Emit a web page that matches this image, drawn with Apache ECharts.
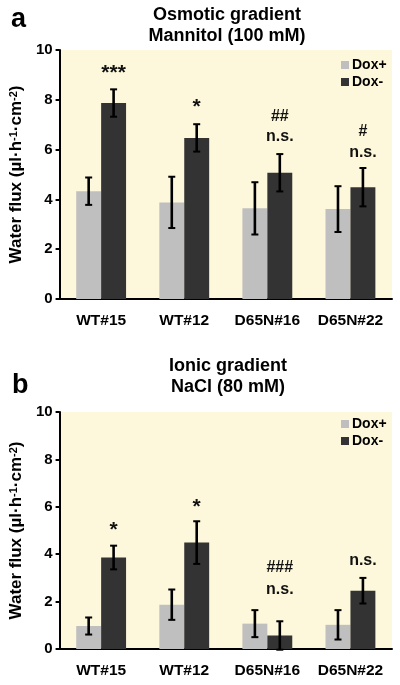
<!DOCTYPE html>
<html>
<head>
<meta charset="utf-8">
<script src="https://cdn.jsdelivr.net/npm/echarts@6/dist/echarts.min.js"></script>
<style>
html,body{margin:0;padding:0;background:#fff;}
#c{width:400px;height:685px;}
</style>
</head>
<body>
<div id="c"></div>
<script>
const categories = ['WT#15', 'WT#12', 'D65N#16', 'D65N#22'];
const yTicks = [0, 2, 4, 6, 8, 10];

const osmoDoxPlus = [4.33, 3.88, 3.64, 3.61];
const osmoDoxPlusErr = [0.55, 1.03, 1.05, 0.92];
const osmoDoxMinus = [7.87, 6.47, 5.07, 4.49];
const osmoDoxMinusErr = [0.55, 0.55, 0.75, 0.77];

const ionicDoxPlus = [0.97, 1.87, 1.07, 1.02];
const ionicDoxPlusErr = [0.36, 0.64, 0.57, 0.62];
const ionicDoxMinus = [3.86, 4.49, 0.57, 2.46];
const ionicDoxMinusErr = [0.50, 0.90, 0.60, 0.54];

const osmoAnnotations = [
  ['WT#15', 9.08, '***'],
  ['WT#12', 7.71, '*'],
  ['D65N#16', 7.31, '##'],
  ['D65N#16', 6.51, 'n.s.'],
  ['D65N#22', 6.71, '#'],
  ['D65N#22', 5.86, 'n.s.']
];
const ionicAnnotations = [
  ['WT#15', 5.0, '*'],
  ['WT#12', 6.0, '*'],
  ['D65N#16', 3.44, '###'],
  ['D65N#16', 2.5, 'n.s.'],
  ['D65N#22', 3.72, 'n.s.']
];

const FONT = "'Liberation Sans', Arial, Helvetica, sans-serif";
const COLOR_PLUS = '#bfbfbf';
const COLOR_MINUS = '#333333';

function errRender(side) {
  return function (params, api) {
    const x = api.value(0), v = api.value(1), e = api.value(2);
    const bw = api.size([1, 0])[0];
    const cx = api.coord([x, v])[0] + side * bw * 0.15;
    const top = api.coord([x, v + e])[1];
    const bot = api.coord([x, v - e])[1];
    const st = { stroke: '#000', lineWidth: 2.6 };
    const cw = 3.5;
    return {
      type: 'group',
      children: [
        { type: 'line', shape: { x1: cx, y1: top, x2: cx, y2: bot }, style: st },
        { type: 'line', shape: { x1: cx - cw, y1: top, x2: cx + cw, y2: top }, style: { stroke: '#000', lineWidth: 2 } },
        { type: 'line', shape: { x1: cx - cw, y1: bot, x2: cx + cw, y2: bot }, style: { stroke: '#000', lineWidth: 2 } }
      ]
    };
  };
}

function annRender(params, api) {
  const x = api.value(0), v = api.value(1);
  const bw = api.size([1, 0])[0];
  const p = api.coord([x, v]);
  const txt = api.value(2);
  const isStar = txt.indexOf('*') >= 0;
  return {
    type: 'text',
    x: p[0] + bw * 0.15,
    y: p[1],
    style: {
      text: txt,
      font: 'bold ' + (isStar ? 21 : 16) + 'px ' + FONT,
      fill: '#111',
      align: 'center',
      verticalAlign: 'middle'
    }
  };
}

function errData(vals, errs) {
  return vals.map((v, i) => [i, v, errs[i]]);
}
function annData(arr) {
  return arr.map(a => [categories.indexOf(a[0]), a[1], a[2]]);
}

const grids = [
  { left: 57, top: 50, width: 335, height: 249 },
  { left: 58, top: 412, width: 334, height: 237 }
];

function xAxis(i) {
  return {
    type: 'category', gridIndex: i, data: categories,
    axisLine: { lineStyle: { color: '#000', width: 2 } },
    axisTick: { show: false },
    axisLabel: { interval: 0, hideOverlap: false, color: '#000', fontWeight: 'bold', fontSize: 15.5, fontFamily: FONT, margin: 14 }
  };
}
function yAxis(i) {
  return {
    type: 'value', gridIndex: i, min: yTicks[0], max: yTicks[yTicks.length - 1], interval: 2,
    splitLine: { show: false },
    axisLine: { show: true, lineStyle: { color: '#000', width: 2 } },
    axisTick: { show: true, length: 4, lineStyle: { color: '#000', width: 2 } },
    axisLabel: { color: '#000', fontWeight: 'bold', fontSize: 15, fontFamily: FONT, margin: 7 },
    name: 'Water flux (µl·h{s|-1}·cm{s|-2})',
    nameLocation: 'middle',
    nameRotate: 90,
    nameGap: 28,
    nameTextStyle: {
      color: '#000', fontWeight: 'bold', fontSize: 17, fontFamily: FONT,
      rich: { s: { fontSize: 11, fontWeight: 'bold', fontFamily: FONT, verticalAlign: 'top', color: '#000' } }
    }
  };
}

function seriesFor(i, plus, plusErr, minus, minusErr, ann) {
  return [
    { name: 'Dox+', type: 'bar', xAxisIndex: i, yAxisIndex: i, data: plus, barWidth: '30%', barGap: '0%', itemStyle: { color: COLOR_PLUS }, silent: true },
    { name: 'Dox-', type: 'bar', xAxisIndex: i, yAxisIndex: i, data: minus, barWidth: '30%', barGap: '0%', itemStyle: { color: COLOR_MINUS }, silent: true },
    { type: 'custom', xAxisIndex: i, yAxisIndex: i, renderItem: errRender(-1), data: errData(plus, plusErr), z: 5, silent: true },
    { type: 'custom', xAxisIndex: i, yAxisIndex: i, renderItem: errRender(1), data: errData(minus, minusErr), z: 5, silent: true },
    { type: 'custom', xAxisIndex: i, yAxisIndex: i, renderItem: annRender, data: annData(ann), z: 6, silent: true }
  ];
}

const chart = echarts.init(document.getElementById('c'), null, { renderer: 'canvas' });
chart.setOption({
  animation: false,
  backgroundColor: '#fff',
  textStyle: { fontFamily: FONT },
  title: [
    { text: 'a', left: 6, top: 1, textStyle: { fontSize: 27, fontWeight: 'bold', color: '#000', fontFamily: FONT } },
    { text: 'Osmotic gradient\nMannitol (100 mM)', left: 222, top: 0, textAlign: 'center',
      textStyle: { fontSize: 18, fontWeight: 'bold', color: '#000', fontFamily: FONT, lineHeight: 21 } },
    { text: 'b', left: 7, top: 367, textStyle: { fontSize: 27, fontWeight: 'bold', color: '#000', fontFamily: FONT } },
    { text: 'Ionic gradient\nNaCl (80 mM)', left: 223, top: 351, textAlign: 'center',
      textStyle: { fontSize: 18, fontWeight: 'bold', color: '#000', fontFamily: FONT, lineHeight: 21 } }
  ],
  legend: [
    { data: ['Dox+', 'Dox-'], orient: 'vertical', left: 336, top: 53, icon: 'rect', itemWidth: 8, itemHeight: 8, itemGap: 3,
      textStyle: { fontSize: 14, fontWeight: 'bold', color: '#000', fontFamily: FONT, padding: [0, 0, 0, -2] }, selectedMode: false },
    { data: ['Dox+', 'Dox-'], orient: 'vertical', left: 336, top: 412, icon: 'rect', itemWidth: 8, itemHeight: 8, itemGap: 3,
      textStyle: { fontSize: 14, fontWeight: 'bold', color: '#000', fontFamily: FONT, padding: [0, 0, 0, -2] }, selectedMode: false }
  ],
  grid: grids.map(g => Object.assign({ show: true, backgroundColor: '#fdf8db', borderWidth: 0 }, g)),
  xAxis: [xAxis(0), xAxis(1)],
  yAxis: [yAxis(0), yAxis(1)],
  series: [].concat(
    seriesFor(0, osmoDoxPlus, osmoDoxPlusErr, osmoDoxMinus, osmoDoxMinusErr, osmoAnnotations),
    seriesFor(1, ionicDoxPlus, ionicDoxPlusErr, ionicDoxMinus, ionicDoxMinusErr, ionicAnnotations)
  )
});
</script>
</body>
</html>
